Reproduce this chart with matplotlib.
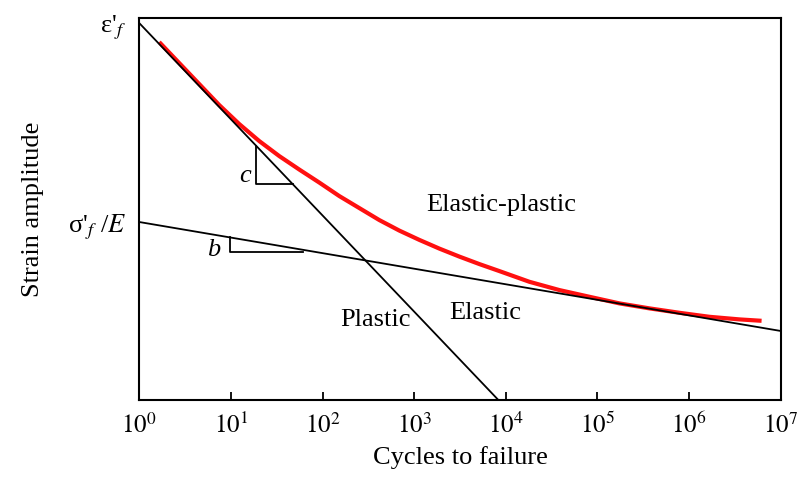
import numpy as np
import matplotlib
matplotlib.use("Agg")
import matplotlib.pyplot as plt

plt.rcParams["font.family"] = ["Liberation Serif", "DejaVu Serif"]
plt.rcParams["mathtext.fontset"] = "stix"

# strain-life lines (cycles, strain amplitude)
plastic_cycles = [1.0, 1.0e4]
plastic_strain = [1.0, 0.00398]
elastic_cycles = [1.0, 1.0e7]
elastic_strain = [0.0574, 0.0120]

# total strain curve
total_cycles = [1.653, 2.734, 4.519, 7.469, 12.35, 20.42, 33.76, 55.81,
                92.28, 152.5, 252.2, 417.0, 689.3, 1140, 1884, 3115, 5150,
                8513, 18090, 38480, 81800, 173900, 369600, 785600,
                1.670e6, 3.550e6, 6.17e6]
total_strain = [0.7609, 0.5627, 0.4162, 0.3078, 0.2343, 0.1835, 0.1479,
                0.1219, 0.1011, 0.0833, 0.0701, 0.0590, 0.05073, 0.04438,
                0.03917, 0.03492, 0.03136, 0.02836, 0.02432, 0.02159,
                0.01961, 0.01783, 0.01660, 0.01558, 0.01471, 0.01417,
                0.01389]

x_ticks = [10.0 ** k for k in range(8)]
x_ticklabels = [r"$10^{%d}$" % k for k in range(8)]
y_ticks = [plastic_strain[0], elastic_strain[0]]
y_ticklabels = [r"ε'$_{f}$", r"σ'$_{f}$ /$E$"]


def on_line(xs, ys, n):
    # point on a straight log-log line
    return 10 ** np.interp(np.log10(n), np.log10(xs), np.log10(ys))


fig = plt.figure(figsize=(8, 4.82), dpi=100)
ax = fig.add_axes([0.174, 0.170, 0.802, 0.7927])
ax.set_xscale("log")
ax.set_yscale("log")

ax.plot(total_cycles, total_strain, color="#ff1010", lw=3.0,
        solid_capstyle="butt", solid_joinstyle="round", zorder=2)
ax.plot(plastic_cycles, plastic_strain, color="black", lw=1.3, zorder=3)
ax.plot(elastic_cycles, elastic_strain, color="black", lw=1.3, zorder=3)

# slope triangles
n0, n1 = 18.8, 47.2
ax.plot([n0, n0, n1],
        [on_line(plastic_cycles, plastic_strain, n0),
         on_line(plastic_cycles, plastic_strain, n1),
         on_line(plastic_cycles, plastic_strain, n1)],
        color="black", lw=1.3)
n0, n1 = 9.8, 62.0
y_low = on_line(elastic_cycles, elastic_strain, n1) * 0.965
ax.plot([n0, n0, n1],
        [on_line(elastic_cycles, elastic_strain, n0), y_low, y_low],
        color="black", lw=1.3)

ax.text(0.165, 0.586, "c", transform=ax.transAxes, fontsize=19,
        style="italic", ha="center", va="center")
ax.text(0.116, 0.393, "b", transform=ax.transAxes, fontsize=19,
        style="italic", ha="center", va="center")
ax.text(0.565, 0.510, "Elastic-plastic", transform=ax.transAxes,
        fontsize=19, ha="center", va="center")
ax.text(0.368, 0.209, "Plastic", transform=ax.transAxes,
        fontsize=19, ha="center", va="center")
ax.text(0.539, 0.227, "Elastic", transform=ax.transAxes,
        fontsize=19, ha="center", va="center")

ax.set_xlim(1, 1e7)
ax.set_ylim(0.00445, 1.075)
ax.set_xticks(x_ticks)
ax.set_xticklabels(x_ticklabels)
ax.xaxis.set_minor_locator(matplotlib.ticker.NullLocator())
ax.set_yticks(y_ticks)
ax.set_yticklabels(y_ticklabels)
ax.yaxis.set_minor_locator(matplotlib.ticker.NullLocator())
ax.tick_params(axis="x", direction="in", length=6, width=1.3,
               labelsize=18, pad=9)
ax.tick_params(axis="y", length=0, labelsize=19, pad=9.5)
for spine in ax.spines.values():
    spine.set_linewidth(1.5)

ax.set_xlabel("Cycles to failure", fontsize=19, labelpad=6)
ax.set_ylabel("Strain amplitude", fontsize=19, labelpad=17)

fig.savefig("out.png", dpi=100)
